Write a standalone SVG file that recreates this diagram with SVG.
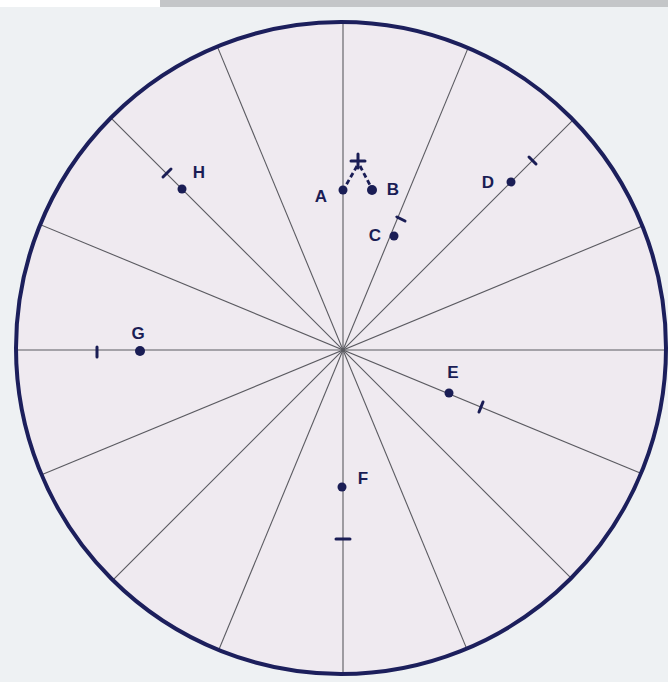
<svg xmlns="http://www.w3.org/2000/svg" width="668" height="682" viewBox="0 0 668 682">
<style>
.ray{stroke:#5a5a60;stroke-width:1.1;fill:none}
.dot{fill:#1a1d55}
.tick{stroke:#1a1d55;stroke-width:3;stroke-linecap:round}
.lbl{font-family:"Liberation Sans",Arial,sans-serif;font-weight:bold;font-size:17px;fill:#1a1d55;text-anchor:middle}
.dash{stroke:#1a1d55;stroke-width:2.8;stroke-dasharray:5 3;fill:none}
</style>
<defs>
<clipPath id="cc"><ellipse cx="341" cy="348" rx="325" ry="326"/></clipPath>
</defs>
<rect width="668" height="682" fill="#eef1f3"/>
<rect x="0" y="0" width="668" height="7" fill="#ffffff"/>
<rect x="160" y="0" width="508" height="7" fill="#c4c6c8"/>
<ellipse cx="341" cy="348" rx="325" ry="326" fill="#efeaf0"/>
<g id="rays" clip-path="url(#cc)">
<line class="ray" x1="3" y1="350" x2="683" y2="350"/>
<line class="ray" x1="28.9" y1="219.9" x2="657.1" y2="480.1"/>
<line class="ray" x1="102.6" y1="109.6" x2="583.4" y2="590.4"/>
<line class="ray" x1="212.9" y1="35.9" x2="473.1" y2="664.1"/>
<line class="ray" x1="343" y1="10" x2="343" y2="690"/>
<line class="ray" x1="473.1" y1="35.9" x2="212.9" y2="664.1"/>
<line class="ray" x1="583.4" y1="109.6" x2="102.6" y2="590.4"/>
<line class="ray" x1="657.1" y1="219.9" x2="28.9" y2="480.1"/>
</g>
<ellipse cx="341" cy="348" rx="325" ry="326" fill="none" stroke="#1c1f5c" stroke-width="4"/>
<g id="connectors">
<path class="dash" d="M357 166 L345 187"/>
<path class="dash" d="M360 166 L371 187"/>
</g>
<g id="plus">
<line class="tick" x1="351" y1="161" x2="365" y2="161"/>
<line class="tick" x1="358" y1="154" x2="358" y2="168"/>
</g>
<g id="A"><circle class="dot" cx="343" cy="190" r="4.5"/><text class="lbl" x="321" y="202">A</text></g>
<g id="B"><circle class="dot" cx="372" cy="190" r="5"/><text class="lbl" x="393" y="195">B</text></g>
<g id="C"><circle class="dot" cx="394" cy="236" r="4.5"/><line class="tick" x1="397" y1="217" x2="405" y2="221"/><text class="lbl" x="375" y="241">C</text></g>
<g id="D"><circle class="dot" cx="511" cy="182" r="4.5"/><line class="tick" x1="529" y1="157" x2="536" y2="164"/><text class="lbl" x="488" y="188">D</text></g>
<g id="E"><circle class="dot" cx="449" cy="393" r="4.5"/><line class="tick" x1="479" y1="412" x2="483" y2="402"/><text class="lbl" x="453" y="378">E</text></g>
<g id="F"><circle class="dot" cx="342" cy="487" r="4.5"/><line class="tick" x1="336" y1="539" x2="350" y2="539"/><text class="lbl" x="363" y="484">F</text></g>
<g id="G"><circle class="dot" cx="140" cy="351" r="5"/><line class="tick" x1="97" y1="347" x2="97" y2="357"/><text class="lbl" x="138" y="339">G</text></g>
<g id="H"><circle class="dot" cx="182" cy="189" r="4.5"/><line class="tick" x1="163" y1="177" x2="171" y2="169"/><text class="lbl" x="199" y="178">H</text></g>
</svg>
